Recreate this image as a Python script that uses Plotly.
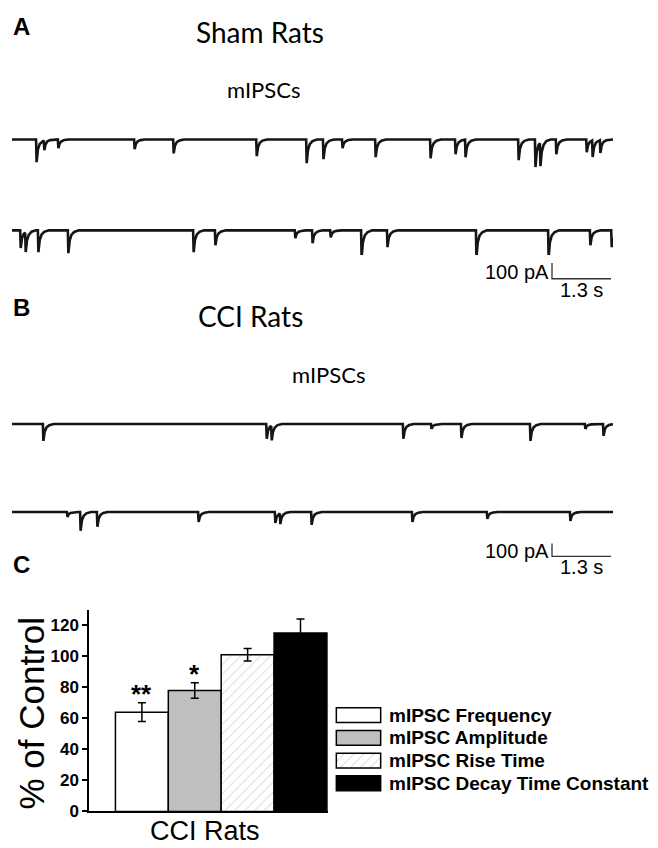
import numpy as np
import plotly.graph_objects as go

# ---- data ----
# panel C
categories = ["mIPSC Frequency", "mIPSC Amplitude", "mIPSC Rise Time", "mIPSC Decay Time Constant"]
pct_control = [64, 78, 101, 115]
pct_sem = [6, 5, 4, 9]
stars = ["**", "*", "", ""]
y_ticks = [0, 20, 40, 60, 80, 100, 120]

# panels A/B: event times (s) and peak amplitudes (pA) of each mIPSC sweep
sham_1_t = [0.53, 0.70, 1.01, 2.69, 3.55, 5.38, 6.48, 6.85, 7.27, 8.00,
            9.21, 9.76, 9.98, 11.15, 11.52, 11.63, 11.98, 12.65, 12.78, 12.95]
sham_1_pa = [144, 62, 56, 62, 88, 106, 150, 125, 56, 112,
             119, 94, 112, 131, 175, 150, 94, 81, 106, 81]
sham_2_t = [0.18, 0.29, 0.57, 1.23, 3.99, 4.47, 6.23, 6.61, 7.01, 7.69,
            8.26, 10.22, 11.81, 12.73, 13.20]
sham_2_pa = [112, 125, 138, 144, 138, 94, 50, 81, 44, 169,
             106, 169, 169, 94, 106]
cci_1_t = [0.68, 5.60, 5.71, 8.61, 9.23, 9.89, 11.41, 12.62, 13.02]
cci_1_pa = [131, 115, 115, 115, 38, 108, 131, 38, 92]
cci_2_t = [1.21, 1.50, 1.87, 4.10, 5.79, 5.90, 6.59, 8.81, 10.46, 12.29]
cci_2_pa = [38, 146, 115, 77, 85, 85, 100, 77, 54, 69]
sweep_len = 13.24
scale_pa = 100
scale_s = 1.3

# ---- layout helpers (pixel -> paper) ----
W, H = 658, 848
ARIAL = "Liberation Sans, Arial, sans-serif"
TITLE_FONT = "Lato, Open Sans, sans-serif"


def px(x):
    return x / W


def py(y):
    return 1 - y / H


kernel_dt = [0, 0.012, 0.04, 0.08, 0.14, 0.24]
kernel_fr = [0, 1, 0.45, 0.2, 0.07, 0]


def sweep(times, amps):
    ts = sorted({0.0, sweep_len} | {t + d for t in times for d in kernel_dt})
    ts = [t for t in ts if t <= sweep_len]
    ys = []
    for t in ts:
        v = 0.0
        for te, a in zip(times, amps):
            v -= a * np.interp(t - te, kernel_dt, kernel_fr, left=0, right=0)
        ys.append(v)
    return ts, ys


fig = go.Figure()
lay = {}
hidden = dict(visible=False, fixedrange=True)
x_dom = [px(4), px(605)]

sweeps = [
    (sham_1_t, sham_1_pa, 133, 6.25),
    (sham_2_t, sham_2_pa, 225, 6.25),
    (cci_1_t, cci_1_pa, 421, 7.69),
    (cci_2_t, cci_2_pa, 510, 7.69),
]
n = 3
for times, amps, base, k in sweeps:
    ts, ys = sweep(times, amps)
    fig.add_trace(go.Scatter(x=ts, y=ys, mode="lines", line=dict(color="#151515", width=2.6),
                             xaxis=f"x{n}", yaxis=f"y{n}", showlegend=False, hoverinfo="skip"))
    lay[f"xaxis{n}"] = dict(domain=x_dom, range=[0, sweep_len], anchor=f"y{n}", **hidden)
    lay[f"yaxis{n}"] = dict(domain=[py(base + 45), py(base - 15)], range=[-45 * k, 15 * k],
                            anchor=f"x{n}", **hidden)
    n += 1

# scale bars
annos = []
for corner, k in [(274, 6.25), (555, 7.69)]:
    t0 = (544 - 4) * 0.02203
    fig.add_trace(go.Scatter(x=[t0, t0, t0 + scale_s], y=[scale_pa, 0, 0], mode="lines",
                             line=dict(color="#333333", width=1.3),
                             xaxis=f"x{n}", yaxis=f"y{n}", showlegend=False, hoverinfo="skip"))
    lay[f"xaxis{n}"] = dict(domain=x_dom, range=[0, sweep_len], anchor=f"y{n}", **hidden)
    lay[f"yaxis{n}"] = dict(domain=[py(corner + 20), py(corner - 24)], range=[-20 * k, 24 * k],
                            anchor=f"x{n}", **hidden)
    annos.append(dict(x=t0, y=scale_pa * 0.45, xref=f"x{n}", yref=f"y{n}", text=f"{scale_pa} pA",
                      xanchor="right", yanchor="middle", xshift=-1, showarrow=False,
                      font=dict(family=ARIAL, size=20, color="black")))
    annos.append(dict(x=t0 + scale_s / 2, y=0, xref=f"x{n}", yref=f"y{n}", text=f"{scale_s} s",
                      xanchor="center", yanchor="top", yshift=2, showarrow=False,
                      font=dict(family=ARIAL, size=20, color="black")))
    n += 1

# panel C bars
fills = ["white", "#bfbfbf", "white", "black"]
shapes = ["", "", "/", ""]
for i, name in enumerate(categories):
    pat = dict(shape=shapes[i], fgcolor="#8c8c8c", bgcolor="white", size=7, solidity=0.12)
    fig.add_trace(go.Bar(x=[i + 1], y=[pct_control[i]], width=1,
                         marker=dict(color=fills[i], line=dict(color="black", width=1.5), pattern=pat),
                         error_y=dict(type="data", array=[pct_sem[i]], color="black", thickness=1.5, width=4),
                         xaxis="x", yaxis="y", showlegend=False, name=name))
    if stars[i]:
        annos.append(dict(x=i + 1, y=pct_control[i] + pct_sem[i], xref="x", yref="y", text=stars[i],
                          yanchor="bottom", yshift=-8, showarrow=False,
                          font=dict(family=ARIAL, size=26, color="black", weight="bold")))
    # legend swatch
    fig.add_trace(go.Bar(x=[1], y=[name], orientation="h",
                         marker=dict(color=fills[i], line=dict(color="black", width=1.5), pattern=pat),
                         xaxis="x2", yaxis="y2", showlegend=False, hoverinfo="skip"))

lay["xaxis"] = dict(domain=[px(81), px(320)], range=[0, 4.52], showline=True, linecolor="black",
                    linewidth=1.5, showticklabels=False, ticks="", showgrid=False, zeroline=False,
                    anchor="y", fixedrange=True)
lay["yaxis"] = dict(domain=[py(813), py(609)], range=[0, 130], tickvals=y_ticks, ticks="outside",
                    ticklen=5, tickwidth=1.5, tickcolor="black", showline=True, linecolor="black",
                    linewidth=1.5, showgrid=False, zeroline=False, anchor="x", fixedrange=True,
                    tickfont=dict(family=ARIAL, size=17, color="black", weight="bold"))
lay["xaxis2"] = dict(domain=[px(327), px(374)], range=[-0.03, 1.03], anchor="y2", **hidden)
lay["yaxis2"] = dict(domain=[py(796), py(704)], type="category", categoryarray=categories,
                     tickmode="array", tickvals=categories, ticktext=categories,
                     autorange="reversed", side="right", anchor="x2", showline=False, ticks="",
                     showgrid=False, fixedrange=True, ticklabelstandoff=6,
                     tickfont=dict(family=ARIAL, size=19, color="black", weight="bold"))

texts = [
    ("A", 13, 19, 24, ARIAL, "bold", 0), ("B", 13, 303, 24, ARIAL, "bold", 0),
    ("C", 13, 563, 24, ARIAL, "bold", 0),
    ("Sham Rats", 252, 24, 28, TITLE_FONT, "normal", 0), ("mIPSCs", 255, 82, 22, TITLE_FONT, "normal", 0),
    ("CCI Rats", 242, 312, 28, TITLE_FONT, "normal", 0), ("mIPSCs", 320, 371, 22, TITLE_FONT, "normal", 0),
    ("% of Control", 24, 714, 35, ARIAL, "normal", -90), ("CCI Rats", 197, 833, 27, ARIAL, "normal", 0),
]
for t, x, y, s, fam, wt, ang in texts:
    annos.append(dict(x=px(x), y=py(y), xref="paper", yref="paper", text=t, showarrow=False,
                      xanchor="center", yanchor="middle", textangle=ang,
                      font=dict(family=fam, size=s, color="black", weight=wt)))

fig.update_layout(width=W, height=H, margin=dict(l=0, r=0, t=0, b=0), plot_bgcolor="white",
                  paper_bgcolor="white", bargap=0.35, barmode="overlay", annotations=annos, **lay)
fig.write_html("out.html")
